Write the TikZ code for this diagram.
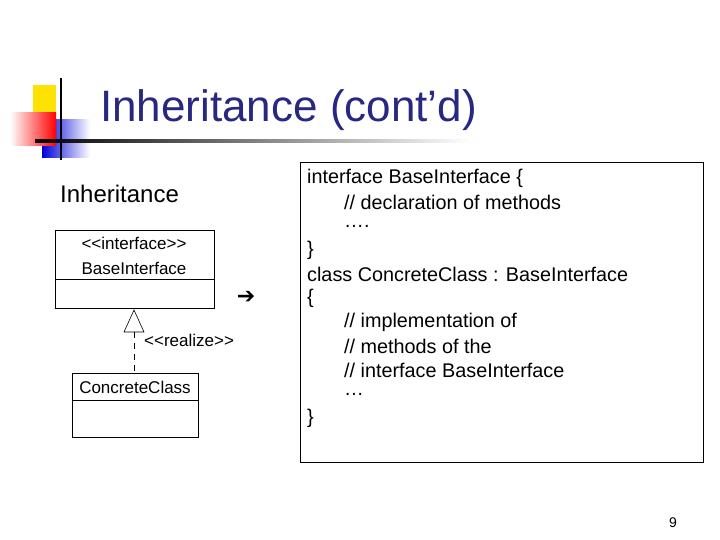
\documentclass[tikz,border=0pt]{standalone}
\usepackage{fontspec}
\setmainfont{Liberation Sans}
\newfontfamily\dejavu{DejaVu Sans}
\begin{document}
\begin{tikzpicture}[x=1pt,y=-1pt,
  uml/.style={font=\fontsize{17}{19}\selectfont,inner sep=0},
  code/.style={anchor=west,font=\fontsize{19.8}{22}\selectfont,inner sep=0}]
\useasboundingbox (0,0) rectangle (720,540);
\definecolor{ttl}{RGB}{40,40,130}
% logo
\fill[yellow!85!orange] (33,85) rectangle (56,120);
\shade[left color=blue!85!black,right color=white] (42,120) rectangle (90,158);
\shade[left color=white,right color=red] (10,113) rectangle (56,146);
\draw[line width=2pt] (61,78) -- (61,160);
\shade[left color=black,right color=white] (35,140) rectangle (470,142.5);
\node[anchor=west,text=ttl,font=\fontsize{44}{48}\selectfont,inner sep=0] (title) at (100,110) {Inheritance (cont’d)};
\node[anchor=west,font=\fontsize{24}{28}\selectfont,inner sep=0] (inh) at (60,194) {Inheritance};
% UML
\draw[semithick] (55,230) rectangle (214,308);
\draw[semithick] (55,279) -- (214,279);
\node[uml] (st) at (134,243) {{<}{<}interface{>}{>}};
\node[uml] (bi) at (134,268) {BaseInterface};
\coordinate (top) at (134,310);
\draw[semithick] (top) -- (124,332) -- (144,332) -- cycle;
\coordinate (tb) at (134,332);
\coordinate (cc) at (134,373);
\draw[semithick,dashed,dash pattern=on 6pt off 5pt] (tb) -- (cc);
\node[uml,anchor=west] (re) at (144,340) {{<}{<}realize{>}{>}};
\draw[semithick] (72,373) rectangle (198,437);
\draw[semithick] (72,400) -- (198,400);
\node[uml] (cn) at (135,387) {ConcreteClass};
\node[font=\dejavu\fontsize{22}{22}\selectfont\bfseries] (arr) at (246,297) {➔};
% code box
\draw[thin] (300,162) rectangle (703,462);
\foreach \t/\x/\y in {{interface BaseInterface \{}/307/178,{// declaration of methods}/344/202,{….}/344/226,{\}}/307/250,{class ConcreteClass : BaseInterface}/307/274,{\{}/307/298,{// implementation of}/344/322,{// methods of the}/344/346,{// interface BaseInterface}/344/370,{…}/344/394,{\}}/307/418}
  \node[code] at (\x,\y) {\t};
\node[font=\fontsize{14}{14}\selectfont] (pg) at (673,523) {9};
\end{tikzpicture}
\end{document}
